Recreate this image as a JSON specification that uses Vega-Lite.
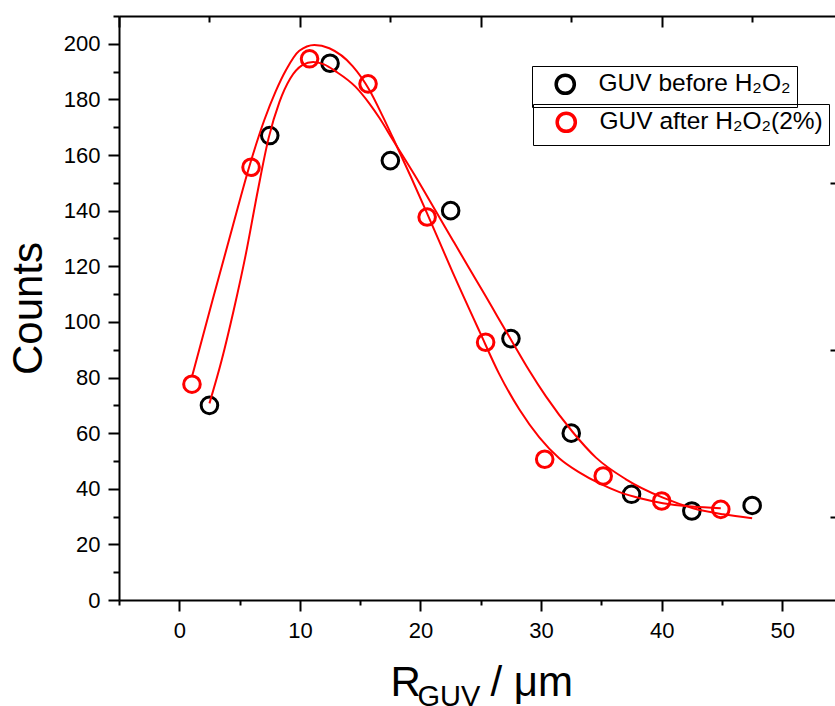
{
  "$schema": "https://vega.github.io/schema/vega-lite/v6.json",
  "width": 716,
  "height": 584,
  "autosize": {"type": "none"},
  "padding": {"left": 119, "top": 16, "right": 0, "bottom": 106},
  "background": "white",
  "config": {
    "view": {"stroke": null},
    "font": "Liberation Sans",
    "axis": {
      "grid": false,
      "domainColor": "#000000",
      "domainWidth": 2,
      "tickColor": "#000000",
      "tickWidth": 2,
      "labelFont": "Liberation Sans",
      "labelFontSize": 22,
      "labelColor": "#000000",
      "titleFont": "Liberation Sans",
      "titleFontWeight": "normal",
      "titleColor": "#000000"
    }
  },
  "datasets": {
    "before": [
      {"x": 2.5, "y": 70}, {"x": 7.5, "y": 167}, {"x": 12.5, "y": 193}, {"x": 17.5, "y": 158},
      {"x": 22.5, "y": 140}, {"x": 27.5, "y": 94}, {"x": 32.5, "y": 60}, {"x": 37.5, "y": 38},
      {"x": 42.5, "y": 32}, {"x": 47.5, "y": 34}
    ],
    "after": [
      {"x": 1.05, "y": 77.6}, {"x": 5.95, "y": 155.6}, {"x": 10.8, "y": 194.6}, {"x": 15.65, "y": 185.6},
      {"x": 20.55, "y": 137.7}, {"x": 25.4, "y": 92.7}, {"x": 30.3, "y": 50.6}, {"x": 35.15, "y": 44.6},
      {"x": 40.0, "y": 35.6}, {"x": 44.9, "y": 32.6}
    ],
    "fitBefore": [
      {"x": 2.5, "y": 70.7}, {"x": 3.5, "y": 86}, {"x": 4.5, "y": 104}, {"x": 5.5, "y": 124},
      {"x": 6.5, "y": 147}, {"x": 7.4, "y": 166}, {"x": 8.3, "y": 179}, {"x": 9.2, "y": 187.5},
      {"x": 10.2, "y": 192.3}, {"x": 11.1, "y": 193.5}, {"x": 12.0, "y": 192.6}, {"x": 13.0, "y": 190},
      {"x": 14.6, "y": 184.6}, {"x": 15.75, "y": 178.6}, {"x": 16.6, "y": 173.3}, {"x": 17.7, "y": 165.5},
      {"x": 19.5, "y": 152.9}, {"x": 21.3, "y": 139.6}, {"x": 22.7, "y": 129.2}, {"x": 24.05, "y": 119.2},
      {"x": 25.3, "y": 110}, {"x": 26.4, "y": 101.8}, {"x": 27.6, "y": 92.9}, {"x": 29.0, "y": 82.6},
      {"x": 30.4, "y": 73.2}, {"x": 32.6, "y": 60.5}, {"x": 34.55, "y": 51.2}, {"x": 37.0, "y": 43.5},
      {"x": 40.1, "y": 36.8}, {"x": 42.6, "y": 33}, {"x": 45.1, "y": 30.8}, {"x": 47.5, "y": 29.4}
    ],
    "fitAfter": [
      {"x": 1.05, "y": 80.3}, {"x": 2.76, "y": 107.9}, {"x": 4.42, "y": 134.2}, {"x": 5.8, "y": 155.8},
      {"x": 7.05, "y": 172.6}, {"x": 8.0, "y": 183}, {"x": 8.85, "y": 190.6}, {"x": 9.95, "y": 197.5},
      {"x": 11.2, "y": 199.6}, {"x": 12.44, "y": 198.4}, {"x": 14.37, "y": 192}, {"x": 15.75, "y": 183.5},
      {"x": 16.86, "y": 174}, {"x": 17.7, "y": 166.3}, {"x": 19.2, "y": 152.2}, {"x": 20.6, "y": 138.5},
      {"x": 22.67, "y": 117.8}, {"x": 24.9, "y": 96.5}, {"x": 26.5, "y": 81.5}, {"x": 28.2, "y": 68.5},
      {"x": 29.85, "y": 58.5}, {"x": 31.5, "y": 51}, {"x": 33.2, "y": 45.8}, {"x": 34.8, "y": 42},
      {"x": 36.5, "y": 38.8}, {"x": 38.3, "y": 36.5}, {"x": 40.1, "y": 34.8}, {"x": 42.5, "y": 33.6},
      {"x": 44.9, "y": 33.0}
    ]
  },
  "layer": [
    {
      "data": {"name": "before"},
      "mark": {"type": "point", "filled": false, "strokeWidth": 3, "size": 275, "opacity": 1},
      "encoding": {
        "x": {
          "field": "x", "type": "quantitative",
          "scale": {"domain": [-5, 54.37], "nice": false, "zero": false},
          "axis": {
            "orient": "bottom", "values": [0, 10, 20, 30, 40, 50], "tickSize": 11, "labelPadding": 9,
            "format": "d",
            "title": "R", "titleFontSize": 42, "titleX": 271, "titleY": 95,
            "titleAlign": "left", "titleBaseline": "alphabetic", "titleAngle": 0
          }
        },
        "y": {
          "field": "y", "type": "quantitative",
          "scale": {"domain": [0, 210], "nice": false, "zero": false},
          "axis": {
            "orient": "left", "values": [0, 20, 40, 60, 80, 100, 120, 140, 160, 180, 200],
            "tickSize": 11, "labelPadding": 8, "format": "d",
            "title": "Counts", "titleFontSize": 42, "titlePadding": 13
          }
        },
        "stroke": {
          "datum": "GUV before H₂O₂",
          "scale": {"range": ["#000000"]},
          "legend": {
            "orient": "none", "legendX": 413, "legendY": 50, "title": null,
            "strokeColor": "#000000", "padding": 6, "symbolType": "circle",
            "symbolSize": 330, "symbolStrokeWidth": 3.5, "symbolFillColor": "transparent",
            "symbolOffset": 15, "labelOffset": 21, "labelFontSize": 24.5,
            "labelFont": "Liberation Sans", "labelColor": "#000000", "labelLimit": 500
          }
        }
      }
    },
    {
      "data": {"name": "after"},
      "mark": {"type": "point", "filled": false, "strokeWidth": 3, "size": 275, "opacity": 1},
      "encoding": {
        "x": {
          "field": "x", "type": "quantitative",
          "scale": {"domain": [-5, 54.37], "nice": false, "zero": false},
          "axis": {
            "orient": "top", "values": [-5, 10, 25, 40], "tickSize": -11,
            "labels": false, "domain": true, "title": null
          }
        },
        "y": {
          "field": "y", "type": "quantitative",
          "scale": {"domain": [0, 210], "nice": false, "zero": false},
          "axis": {
            "orient": "left", "values": [10, 30, 50, 70, 90, 110, 130, 150, 170, 190, 210],
            "tickSize": 6, "labels": false, "domain": false, "title": null
          }
        },
        "color": {
          "datum": "GUV after H₂O₂(2%)",
          "scale": {"range": ["#FF0000"]},
          "legend": {
            "orient": "none", "legendX": 414, "legendY": 88, "title": null,
            "strokeColor": "#000000", "padding": 6, "symbolType": "circle",
            "symbolSize": 330, "symbolStrokeWidth": 3.5, "symbolFillColor": "transparent",
            "symbolOffset": 15, "labelOffset": 21, "labelFontSize": 24.5,
            "labelFont": "Liberation Sans", "labelColor": "#000000", "labelLimit": 500
          }
        }
      }
    },
    {
      "data": {"name": "fitBefore"},
      "mark": {"type": "line", "color": "#FF0000", "strokeWidth": 2, "interpolate": "monotone"},
      "encoding": {
        "x": {
          "field": "x", "type": "quantitative",
          "scale": {"domain": [-5, 54.37], "nice": false, "zero": false},
          "axis": {
            "orient": "bottom", "values": [-5, 5, 15, 25, 35, 45], "tickSize": 5,
            "labels": false, "domain": false,
            "title": "/ μm", "titleFontSize": 42, "titleX": 371, "titleY": 95,
            "titleAlign": "left", "titleBaseline": "alphabetic", "titleAngle": 0
          }
        },
        "y": {
          "field": "y", "type": "quantitative",
          "scale": {"domain": [0, 210], "nice": false, "zero": false},
          "axis": {
            "orient": "right", "values": [30, 90, 150], "tickSize": -5,
            "labels": false, "domain": false, "title": null
          }
        }
      }
    },
    {
      "data": {"name": "fitAfter"},
      "mark": {"type": "line", "color": "#FF0000", "strokeWidth": 2, "interpolate": "monotone"},
      "encoding": {
        "x": {
          "field": "x", "type": "quantitative",
          "scale": {"domain": [-5, 54.37], "nice": false, "zero": false},
          "axis": {
            "orient": "top", "values": [2.5, 17.5, 32.5, 47.5], "tickSize": -6,
            "labels": false, "domain": false,
            "title": "GUV", "titleFontSize": 29, "titleX": 298, "titleY": 689,
            "titleAlign": "left", "titleBaseline": "alphabetic", "titleAngle": 0
          }
        },
        "y": {
          "field": "y", "type": "quantitative",
          "scale": {"domain": [0, 210], "nice": false, "zero": false},
          "axis": null
        }
      }
    }
  ],
  "resolve": {"axis": {"x": "independent", "y": "independent"}}
}
